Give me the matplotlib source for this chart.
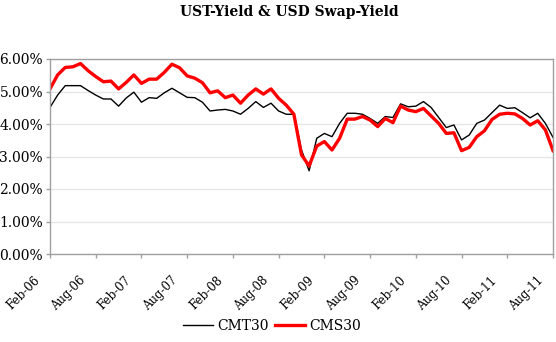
import matplotlib
matplotlib.use("Agg")
import matplotlib.pyplot as plt
import matplotlib.transforms as mtransforms
from matplotlib.ticker import FuncFormatter, MultipleLocator

# monthly yields in percent, Feb-06 .. Aug-11
cmt30 = [4.51, 4.89, 5.18, 5.18, 5.18, 5.03, 4.89, 4.77, 4.77, 4.55, 4.80, 4.98,
         4.67, 4.81, 4.79, 4.96, 5.10, 4.96, 4.82, 4.81, 4.67, 4.40, 4.43, 4.45,
         4.40, 4.30, 4.48, 4.69, 4.51, 4.64, 4.40, 4.30, 4.30, 3.20, 2.56, 3.56,
         3.71, 3.61, 4.02, 4.33, 4.33, 4.30, 4.17, 4.02, 4.23, 4.20, 4.62, 4.53,
         4.55, 4.69, 4.51, 4.20, 3.89, 3.97, 3.51, 3.66, 4.02, 4.12, 4.35, 4.58,
         4.48, 4.50, 4.35, 4.19, 4.33, 4.02, 3.59]
cms30 = [5.08, 5.51, 5.74, 5.76, 5.86, 5.64, 5.46, 5.30, 5.32, 5.08, 5.28, 5.51,
         5.25, 5.38, 5.38, 5.59, 5.84, 5.73, 5.48, 5.41, 5.27, 4.96, 5.02, 4.81,
         4.89, 4.64, 4.89, 5.08, 4.92, 5.08, 4.79, 4.58, 4.30, 3.05, 2.71, 3.32,
         3.46, 3.20, 3.56, 4.15, 4.15, 4.23, 4.12, 3.92, 4.17, 4.04, 4.55, 4.43,
         4.38, 4.48, 4.25, 4.02, 3.71, 3.73, 3.18, 3.28, 3.61, 3.79, 4.14, 4.30,
         4.33, 4.31, 4.17, 3.97, 4.10, 3.82, 3.18]
tick_labels = ["Feb-06", "Aug-06", "Feb-07", "Aug-07", "Feb-08", "Aug-08",
               "Feb-09", "Aug-09", "Feb-10", "Aug-10", "Feb-11", "Aug-11"]

plt.rcParams["font.family"] = "DejaVu Serif"
fig = plt.figure(figsize=(5.56, 3.42), dpi=100)
ax = fig.add_axes([50 / 556, 1 - 254 / 342, 503 / 556, 195 / 342])

months = list(range(len(cmt30)))
ax.plot(months, cmt30, color="black", lw=1.0, label="CMT30")
ax.plot(months, cms30, color="#ff0000", lw=2.4, label="CMS30")

ax.set_xlim(0, len(cmt30) - 1)
ax.set_ylim(0, 6)
ax.yaxis.set_major_locator(MultipleLocator(1))
ax.yaxis.set_major_formatter(FuncFormatter(lambda v, p: "%.2f%%" % v))
ax.grid(axis="y", color="#e6e6e6", lw=1)
ax.set_axisbelow(True)

for s in ax.spines.values():
    s.set_color("#a0a0a0")
    s.set_linewidth(1)
ax.tick_params(axis="both", colors="#a0a0a0", length=3, width=1, labelcolor="black")
ax.tick_params(axis="x", pad=0)
ax.tick_params(axis="y", labelsize=10, pad=2)

# rotated month labels sit below and to the left of their ticks
ax.set_xticks(months[::6])
ax.set_xticklabels(tick_labels, rotation=45, ha="right", va="center",
                   rotation_mode="anchor", fontsize=8.5)
shift = mtransforms.ScaledTranslation(-0.12, -0.20, fig.dpi_scale_trans)
for lbl in ax.get_xticklabels():
    lbl.set_transform(lbl.get_transform() + shift)

fig.suptitle("UST-Yield & USD Swap-Yield", x=289 / 556, y=1 - 5 / 342,
             fontsize=10, fontweight="bold", va="top")

fig.legend(loc="center", bbox_to_anchor=(272 / 556, 1 - 326 / 342), ncol=2,
           frameon=False, fontsize=10, handlelength=2.2, handletextpad=0.3,
           columnspacing=0.4)

fig.savefig("out.png", dpi=100)
